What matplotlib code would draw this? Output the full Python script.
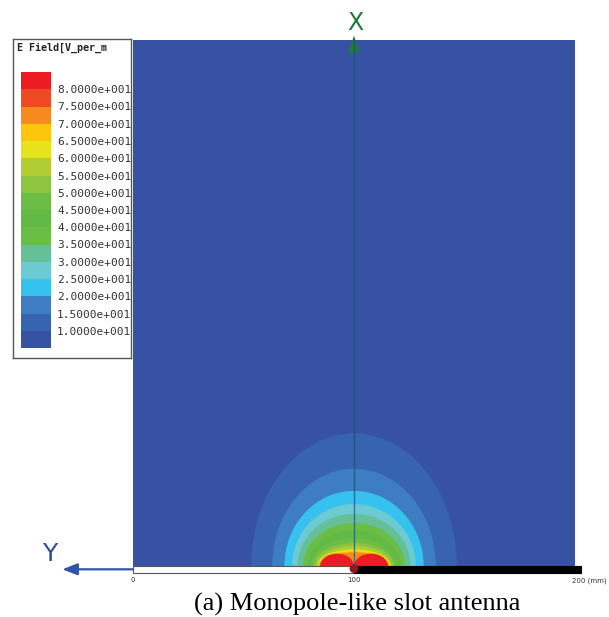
import numpy as np
import matplotlib
matplotlib.use('Agg')
import matplotlib.pyplot as plt
from matplotlib.patches import Ellipse, Rectangle, Circle, Polygon

# legend levels (V/m) and swatch colours, top (highest) to bottom
level_labels = ['8.0000e+001', '7.5000e+001', '7.0000e+001', '6.5000e+001', '6.0000e+001',
                '5.5000e+001', '5.0000e+001', '4.5000e+001', '4.0000e+001', '3.5000e+001',
                '3.0000e+001', '2.5000e+001', '2.0000e+001', '1.5000e+001', '1.0000e+001']
swatch_colors = ['#ED1C24', '#EF4A24', '#F58B1F', '#FDC60B', '#E6E31A', '#B2CD34',
                 '#8DC440', '#6BBD45', '#63B946', '#6ABD45', '#66C097', '#6CCAD3',
                 '#35C2EE', '#3E7DC1', '#3763AF', '#3852A3']

# field contours: lower level, half width (mm), height (mm)
band_level = [10, 15, 20, 25, 30, 35, 40, 45, 50, 55, 60, 65, 70]
band_halfw = [46.5, 37, 31.5, 28, 25.5, 23, 21, 19.5, 18.2, 17, 16.5, 16.2, 15.8]
band_height = [60, 44, 34, 28, 23.6, 19.5, 16, 12.7, 10.4, 9, 7.5, 6.8, 6.2]
band_colors = ['#3763AF', '#3E7DC1', '#35C2EE', '#6CCAD3', '#66C097', '#6ABD45',
               '#63B946', '#6BBD45', '#8DC440', '#B2CD34', '#E6E31A', '#FDC60B', '#F58B1F']
# two red lobes (>75 V/m): centre x, half width, height
lobe_x = [92.3, 107.7]
lobe_halfw = [7.6, 7.6]
lobe_height = [5.6, 5.6]

feed_x = 100
span = [0, 100, 200]

W, H = 609, 617
fig = plt.figure(figsize=(W / 100, H / 100), dpi=100)

ax = fig.add_axes([133 / W, (H - 566) / H, 442 / W, 526 / H])
ax.set_xlim(0, 200)
ax.set_ylim(0, 526 / 2.21)
ax.set_facecolor(swatch_colors[-1])
ax.set_xticks([])
ax.set_yticks([])
for s in ax.spines.values():
    s.set_visible(False)

for hw, h, c in zip(band_halfw, band_height, band_colors):
    ax.add_patch(Ellipse((feed_x, 0), 2 * hw, 2 * h, facecolor=c, edgecolor='none'))
for lx, hw, h in zip(lobe_x, lobe_halfw, lobe_height):
    ax.add_patch(Ellipse((lx, 0), 2 * hw, 2 * h, facecolor='#ED1C24', edgecolor='none'))

# X axis line and arrow
ax.plot([feed_x, feed_x], [0, 238], color='#17507A', lw=1, alpha=0.7)
ax.add_patch(Polygon([[feed_x - 2.7, 232], [feed_x + 2.7, 232], [feed_x, 240]],
                     closed=True, facecolor='#1F7A3A', edgecolor='none', clip_on=False))
ax.text(feed_x + 0.5, 245.5, 'X', color='#1F7A3A', fontsize=17, ha='center', va='center')

# scale bar
ax.add_patch(Rectangle((span[0], -3.1), span[1] - span[0], 3.1, facecolor='white',
                       edgecolor='#555555', lw=0.8, clip_on=False))
ax.add_patch(Rectangle((span[1], -3.1), span[2] - span[1] + 2.5, 3.1, facecolor='black',
                       edgecolor='black', lw=0.8, clip_on=False))
ax.add_patch(Circle((feed_x, -1.2), 2.0, facecolor='#8B1A1A', edgecolor='none', clip_on=False))
for v in span:
    if v < 200:
        ax.text(v, -6.5, '%d' % v, fontsize=5, color='#333333', ha='center', va='center')
    else:
        ax.text(v - 1.2, -6.5, '%d (mm)' % v, fontsize=5, color='#333333', ha='left',
                va='center')

# Y arrow
ax.annotate('', xy=(-32, -1.5), xytext=(0, -1.5), xycoords='data',
            arrowprops=dict(arrowstyle='-|>,head_length=0.9,head_width=0.35', color='#2E55A8',
                            lw=1.6, shrinkA=0, shrinkB=0), annotation_clip=False)
ax.text(-37.5, 5.5, 'Y', color='#2E4EA0', fontsize=18, ha='center', va='center')

# legend box
lax = fig.add_axes([13 / W, (H - 358) / H, 118 / W, 319 / H])
lax.set_xticks([])
lax.set_yticks([])
for s in lax.spines.values():
    s.set_color('#555555')
    s.set_linewidth(1)
lax.text(4 / 118, 1 - 9 / 319, 'E Field[V_per_m', fontsize=7.2, family='DejaVu Sans Mono',
         weight='bold', color='#222222', va='center', ha='left', transform=lax.transAxes)

cax = fig.add_axes([20.7 / W, (H - 348) / H, 30 / W, 276 / H])
n = len(swatch_colors)
cax.barh(np.arange(n) + 0.5, 1, height=1, color=swatch_colors)
cax.set_xlim(0, 1)
cax.set_ylim(n, 0)
cax.set_xticks([])
cax.yaxis.tick_right()
cax.set_yticks(np.arange(1, n))
cax.set_yticklabels(level_labels, family='DejaVu Sans Mono', fontsize=8, color='#333333')
cax.tick_params(axis='y', length=0, pad=4.5)
for s in cax.spines.values():
    s.set_visible(False)

fig.text(357 / W, (H - 604) / H, '(a) Monopole-like slot antenna', fontsize=19,
         family='Liberation Serif', ha='center', va='center')

fig.savefig('out.png', dpi=100)
